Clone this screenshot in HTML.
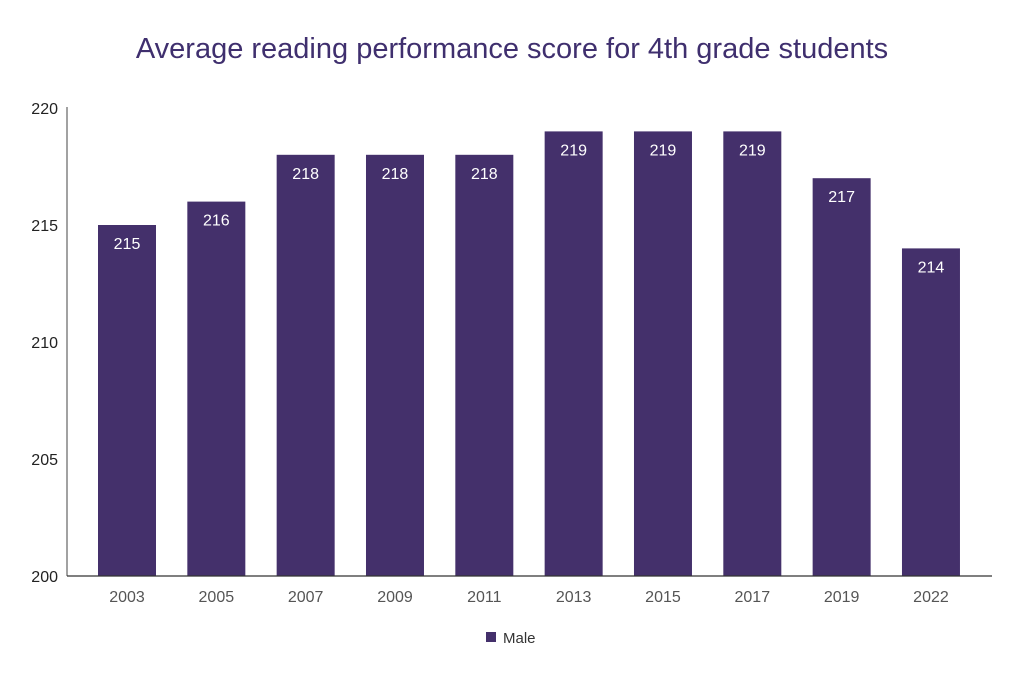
<!DOCTYPE html>
<html><head><meta charset="utf-8"><style>
body{margin:0;background:#fff;width:1024px;height:683px;overflow:hidden;font-family:"Liberation Sans",sans-serif;}
</style></head><body>
<svg width="1024" height="683">
<text x="512" y="58" text-anchor="middle" font-size="29" fill="#3f2f6e">Average reading performance score for 4th grade students</text>
<g id="yaxis"></g>
<g id="bars"></g>
<line x1="67" y1="107" x2="67" y2="576" stroke="#444" stroke-width="1"/>
<line x1="67" y1="576" x2="992" y2="576" stroke="#333" stroke-width="1.3"/>
<g>
<rect x="486" y="632" width="10" height="10" fill="#44306b"/>
<text x="503" y="643" font-size="15" fill="#333">Male</text>
</g>
</svg>
<script>
const categories=["2003","2005","2007","2009","2011","2013","2015","2017","2019","2022"];
const values=[215,216,218,218,218,219,219,219,217,214];
const yTicks=[200,205,210,215,220];
const ns="http://www.w3.org/2000/svg";
function y(v){return 576-(v-200)*23.4;}
function xc(i){return 127+i*89.33;}
const ya=document.getElementById('yaxis'),bg=document.getElementById('bars');
yTicks.forEach(t=>{
 const tx=document.createElementNS(ns,'text');
 
 
 tx.setAttribute('x',58);tx.setAttribute('y',y(t)+6);tx.setAttribute('text-anchor','end');
 tx.setAttribute('font-size','16');tx.setAttribute('fill','#222');tx.textContent=t;ya.appendChild(tx);
});
categories.forEach((c,i)=>{
 const v=values[i];
 const r=document.createElementNS(ns,'rect');
 
 
 r.setAttribute('x',xc(i)-29);r.setAttribute('y',y(v));r.setAttribute('width',58);r.setAttribute('height',576-y(v));r.setAttribute('fill','#44306b');bg.appendChild(r);
 const l=document.createElementNS(ns,'text');
 
 
 l.setAttribute('x',xc(i));l.setAttribute('y',y(v)+24);l.setAttribute('text-anchor','middle');l.setAttribute('font-size','16');l.setAttribute('fill','#fff');l.textContent=v;bg.appendChild(l);
 const xl=document.createElementNS(ns,'text');
 
 
 xl.setAttribute('x',xc(i));xl.setAttribute('y',602);xl.setAttribute('text-anchor','middle');xl.setAttribute('font-size','16');xl.setAttribute('fill','#555');xl.textContent=c;bg.appendChild(xl);
});
</script>
</body></html>
